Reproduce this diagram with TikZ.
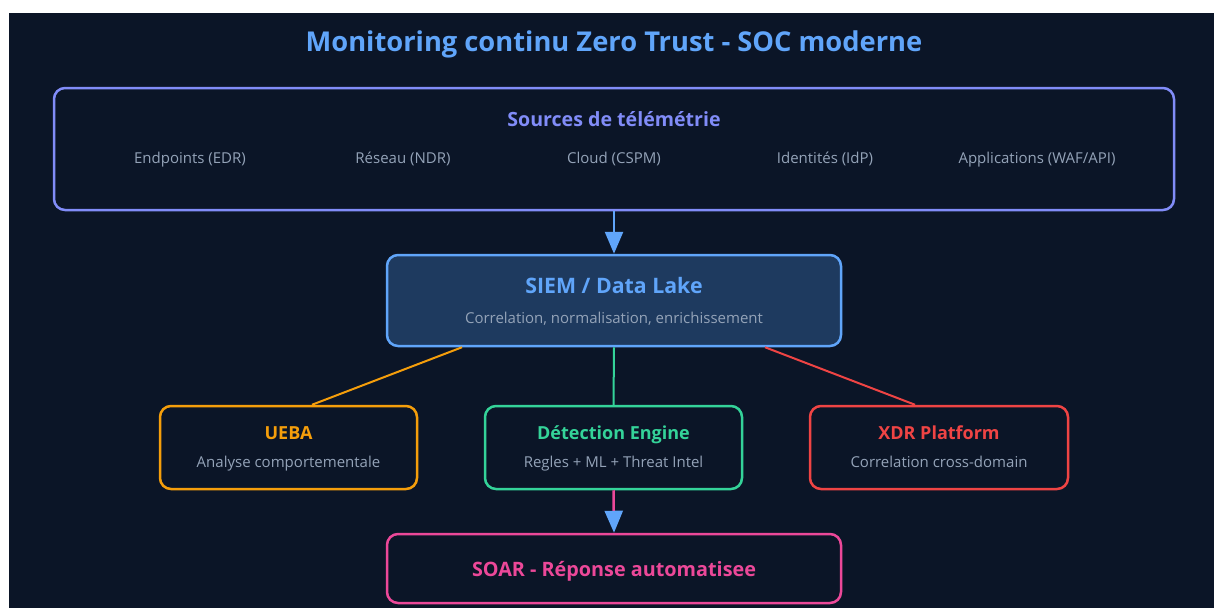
\documentclass[tikz,border=0pt]{standalone}
\usepackage{fontspec}
\setmainfont{Open Sans}
\usetikzlibrary{arrows.meta,calc}
\definecolor{bgc}{HTML}{0B1527}
\definecolor{siemfill}{HTML}{1E3A5F}
\definecolor{graytxt}{HTML}{94A3B8}
\definecolor{indigoc}{HTML}{818CF8}
\definecolor{bluec}{HTML}{60A5FA}
\definecolor{amberc}{HTML}{F59E0B}
\definecolor{greenc}{HTML}{34D399}
\definecolor{redc}{HTML}{EF4444}
\definecolor{pinkc}{HTML}{EC4899}
\tikzset{
  box/.style={draw, rounded corners=11pt, line width=2.5pt, inner sep=0pt},
  ttl/.style={font=\bfseries\fontsize{18}{22}\selectfont, inner sep=0pt, text height=0.75em, text depth=0.22em},
  sub/.style={text=graytxt, font=\fontsize{15}{18}\selectfont, inner sep=0pt, text height=0.75em, text depth=0.22em},
  conn/.style={line width=2pt},
  arr/.style={line width=2.5pt, -{Triangle[width=18pt,length=22pt,color=bluec]}},
}
\begin{document}
\begin{tikzpicture}[x=1pt,y=-1pt]
\useasboundingbox (0,0) rectangle (1214,608);
\fill[white] (0,0) rectangle (1214,608);
\fill[bgc] (9,13) rectangle (1214,608);
\node[text=bluec, font=\bfseries\fontsize{27.3}{30}\selectfont, inner sep=0pt, text height=0.75em, text depth=0.22em] (title) at (614,49) {Monitoring continu Zero Trust - SOC moderne};
% sources
\node[box, draw=indigoc, minimum width=1120pt, minimum height=122pt] (src) at (614,149) {};
\node[ttl, text=indigoc, font=\bfseries\fontsize{19.6}{22}\selectfont] (srct) at (614,124) {Sources de télémétrie};
\node[sub] (s1) at (190,161) {Endpoints (EDR)};
\node[sub] (s2) at (403,161) {Réseau (NDR)};
\node[sub] (s3) at (614,161) {Cloud (CSPM)};
\node[sub] (s4) at (825,161) {Identités (IdP)};
\node[sub] (s5) at (1037,161) {Applications (WAF/API)};
% SIEM
\node[box, draw=bluec, fill=siemfill, minimum width=454pt, minimum height=91pt] (siem) at (614,300.5) {};
\node[ttl, text=bluec, font=\bfseries\fontsize{21.3}{24}\selectfont] (siemt) at (614,291) {SIEM / Data Lake};
\node[sub] (siems) at (614,321) {Correlation, normalisation, enrichissement};
% middle row
\node[box, draw=amberc, minimum width=257pt, minimum height=83pt] (ueba) at (288.5,447.5) {};
\node[ttl, text=amberc, font=\bfseries\fontsize{18}{20}\selectfont] (uebat) at (288.5,437) {UEBA};
\node[sub] (uebas) at (288.5,465) {Analyse comportementale};
\node[box, draw=greenc, minimum width=257pt, minimum height=83pt] (det) at (613.5,447.5) {};
\node[ttl, text=greenc, font=\bfseries\fontsize{18}{20}\selectfont] (dett) at (613.5,437) {Détection Engine};
\node[sub] (dets) at (613.5,465) {Regles + ML + Threat Intel};
\node[box, draw=redc, minimum width=258pt, minimum height=83pt] (xdr) at (939,447.5) {};
\node[ttl, text=redc, font=\bfseries\fontsize{18}{20}\selectfont] (xdrt) at (939,437) {XDR Platform};
\node[sub] (xdrs) at (939,465) {Correlation cross-domain};
% SOAR
\node[box, draw=pinkc, minimum width=454pt, minimum height=69pt] (soar) at (614,568.5) {};
\node[ttl, text=pinkc, font=\bfseries\fontsize{19.8}{22}\selectfont] (soart) at (614,574) {SOAR - Réponse automatisee};
% connectors
\draw[arr, bluec] (src.south) -- (siem.north);
\draw[conn, amberc] ([xshift=-152pt]siem.south) -- ([xshift=23.5pt]ueba.north);
\draw[conn, greenc] (siem.south) -- (det.north);
\draw[conn, redc] ([xshift=151pt]siem.south) -- ([xshift=-24pt]xdr.north);
\draw[arr, pinkc] (det.south) -- (soar.north);
\end{tikzpicture}
\end{document}
